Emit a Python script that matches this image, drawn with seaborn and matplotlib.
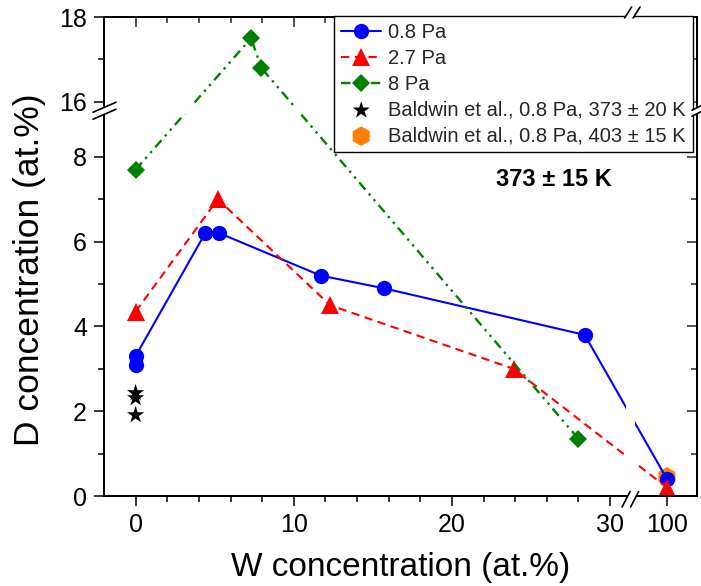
import numpy as np
import pandas as pd
import matplotlib
matplotlib.use("Agg")
import matplotlib.pyplot as plt
import seaborn as sns
from matplotlib.patches import Polygon
from matplotlib.lines import Line2D

# ---------------- data ----------------
w_08 = [0, 0, 4.4, 5.3, 11.7, 15.7, 28.4, 100]
d_08 = [3.1, 3.3, 6.2, 6.2, 5.2, 4.9, 3.8, 0.4]
w_27 = [0, 5.2, 12.3, 23.9, 100]
d_27 = [4.35, 7.0, 4.5, 3.0, 0.2]
w_8 = [0, 7.3, 7.95, 28.0]
d_8 = [7.7, 17.5, 16.8, 1.35]
w_b373 = [0, 0, 0]
d_b373 = [2.43, 2.31, 1.91]
w_b403 = [100]
d_b403 = [0.45]

series_labels = ["0.8 Pa", "2.7 Pa", "8 Pa",
                 "Baldwin et al., 0.8 Pa, 373 \u00b1 20 K",
                 "Baldwin et al., 0.8 Pa, 403 \u00b1 15 K"]
annotation = "373 \u00b1 15 K"
x_label = "W concentration (at.%)"
y_label = "D concentration (at.%)"
x_ticks = [0, 10, 20, 30, 100]
x_minor = [2, 4, 6, 8, 12, 14, 16, 18, 22, 24, 26, 28]
y_ticks = [0, 2, 4, 6, 8, 16, 18]
y_minor = [1, 3, 5, 7, 17]

# ---------------- broken-axis scales ----------------
X1, X2, GX = 31.0, 98.0, 0.6
Y1, Y2, GY = 9.0, 15.9, 0.2


def fx(x):
    x = np.asarray(x, dtype=float)
    return np.where(x <= X1, x,
                    np.where(x >= X2, x - X2 + X1 + GX,
                             X1 + (x - X1) * GX / (X2 - X1)))


def ifx(t):
    t = np.asarray(t, dtype=float)
    return np.where(t <= X1, t,
                    np.where(t >= X1 + GX, t - X1 - GX + X2,
                             X1 + (t - X1) * (X2 - X1) / GX))


def fy(y):
    y = np.asarray(y, dtype=float)
    return np.where(y <= Y1, y,
                    np.where(y >= Y2, y - Y2 + Y1 + GY,
                             Y1 + (y - Y1) * GY / (Y2 - Y1)))


def ify(t):
    t = np.asarray(t, dtype=float)
    return np.where(t <= Y1, t,
                    np.where(t >= Y1 + GY, t - Y1 - GY + Y2,
                             Y1 + (t - Y1) * (Y2 - Y1) / GY))


sns.set_theme(style="white")
plt.rcParams["font.family"] = ["Liberation Sans", "DejaVu Sans"]
plt.rcParams["axes.unicode_minus"] = False

W, H = 701, 586
fig = plt.figure(figsize=(W / 100, H / 100), dpi=100)
fig.patch.set_facecolor("white")
AX_L, AX_R, AX_T, AX_B = 104, 697, 17, 496
ax = fig.add_axes([AX_L / W, (H - AX_B) / H, (AX_R - AX_L) / W, (AX_B - AX_T) / H])
ax.set_facecolor("white")

XMIN, XMAX = -2.0, 101.9
YMIN, YMAX = 0.0, 18.0
ax.set_xscale("function", functions=(fx, ifx))
ax.set_yscale("function", functions=(fy, ify))

BLUE, RED, GREEN, ORANGE = "#0000FF", "#FF0000", "#008000", "#FF8000"

sns.lineplot(x=w_08, y=d_08, ax=ax, sort=False, estimator=None, color=BLUE,
             marker="o", markersize=11, markeredgewidth=0, lw=1.5,
             label=series_labels[0], zorder=2)
sns.lineplot(x=w_27, y=d_27, ax=ax, sort=False, estimator=None, color=RED,
             marker="^", markersize=12.5, markeredgewidth=0, lw=1.5,
             linestyle=(0, (4, 2.6)), label=series_labels[1], zorder=2)
sns.lineplot(x=w_8, y=d_8, ax=ax, sort=False, estimator=None, color=GREEN,
             marker="D", markersize=9.5, markeredgewidth=0, lw=1.7,
             linestyle=(0, (4, 2.2, 1, 2.2, 1, 2.2)), label=series_labels[2], zorder=2)
sns.scatterplot(x=w_b373, y=d_b373, ax=ax, marker="*", s=170, color="black",
                edgecolor="none", linewidth=0, label=series_labels[3], zorder=2)
sns.scatterplot(x=w_b403, y=d_b403, ax=ax, marker="h", s=200, color=ORANGE,
                edgecolor="none", linewidth=0, label=series_labels[4], zorder=1.5)
if ax.get_legend() is not None:
    ax.get_legend().remove()

ax.set_xlim(XMIN, XMAX)
ax.set_ylim(YMIN, YMAX)

# blank the lines inside the break bands (as in Origin)
ax.axvspan(X1, X2, color="white", lw=0, zorder=2.6)
ax.axhspan(Y1, Y2, color="white", lw=0, zorder=2.6)

ax.set_xticks(x_ticks)
ax.set_xticks(x_minor, minor=True)
ax.set_yticks(y_ticks)
ax.set_yticks(y_minor, minor=True)
ax.set_xticklabels([str(v) for v in x_ticks])
ax.set_yticklabels([str(v) for v in y_ticks])
ax.tick_params(which="both", direction="out", width=1.1, color="black",
               labelsize=18, labelcolor="black")
ax.tick_params(which="major", length=7.2, pad=5)
ax.tick_params(which="minor", length=4.3)
ax.grid(False)
for s in ax.spines.values():
    s.set_color("black")
    s.set_linewidth(1.4)
    s.set_zorder(3)
ax.set_xlabel(x_label, fontsize=24, color="black", labelpad=10.5)
ax.set_ylabel(y_label, fontsize=25.5, color="black")
ax.yaxis.set_label_coords(-(AX_L - 46) / (AX_R - AX_L), (AX_B - 270) / (AX_B - AX_T))

ax.text(0.759, 0.66, annotation, transform=ax.transAxes, ha="center", va="center",
        fontsize=17, fontweight="bold", color="black")

# top axis (inward ticks)
ax_top = ax.twiny()
ax_top.set_xscale("function", functions=(fx, ifx))
ax_top.set_xlim(XMIN, XMAX)
ax_top.set_xticks(x_ticks)
ax_top.set_xticks(x_minor, minor=True)
ax_top.tick_params(which="both", direction="in", width=1.1, labeltop=False, top=True)
ax_top.tick_params(which="major", length=7.2)
ax_top.tick_params(which="minor", length=4.3)
ax_top.grid(False)

# right axis (inward ticks)
ax_r = ax.twinx()
ax_r.set_yscale("function", functions=(fy, ify))
ax_r.set_ylim(YMIN, YMAX)
ax_r.set_yticks(y_ticks)
ax_r.set_yticks(y_minor, minor=True)
ax_r.tick_params(which="both", direction="in", width=1.1, labelright=False, right=True)
ax_r.tick_params(which="major", length=7.2)
ax_r.tick_params(which="minor", length=4.3)
ax_r.grid(False)
for a in (ax_top, ax_r):
    for s in a.spines.values():
        s.set_color("black")
        s.set_linewidth(1.4)

# legend
handles, labels = ax.get_legend_handles_labels()
leg = ax_r.legend(handles, labels, loc="upper right",
                  bbox_to_anchor=((692.7 - AX_L) / (AX_R - AX_L), 1.0 + 1 / (AX_B - AX_T)),
                  fontsize=14.5, frameon=True, fancybox=False, edgecolor="black",
                  framealpha=1, borderpad=0.35, labelspacing=0.34, handlelength=2.0,
                  handletextpad=0.33, borderaxespad=0, numpoints=1, scatterpoints=1)
leg.get_frame().set_linewidth(1.0)
leg.set_zorder(20)

# break marks (decorations), in axes fractions from pixel offsets
aw, ah = AX_R - AX_L, AX_B - AX_T
tx0, tx1 = float(fx(XMIN)), float(fx(XMAX))
ty0, ty1 = float(fy(YMIN)), float(fy(YMAX))
bx = (X1 + GX / 2 - tx0) / (tx1 - tx0)
by = (Y1 + GY / 2 - ty0) / (ty1 - ty0)


def slash_pair(cx, cy, p1, p2, shift):
    """p1, p2: endpoints of first slash in pixel offsets (dx, dy-up); shift: (dx,dy) to 2nd."""
    pts_a = [(cx + p1[0] / aw, cy + p1[1] / ah), (cx + p2[0] / aw, cy + p2[1] / ah)]
    pts_b = [(x + shift[0] / aw, y + shift[1] / ah) for x, y in pts_a]
    poly = Polygon([pts_a[0], pts_b[0], pts_b[1], pts_a[1]], closed=True,
                   facecolor="white", edgecolor="none", transform=ax_r.transAxes,
                   clip_on=False, zorder=30)
    ax_r.add_patch(poly)
    for pts in (pts_a, pts_b):
        ax_r.add_line(Line2D([p[0] for p in pts], [p[1] for p in pts], color="black",
                             lw=1.2, transform=ax_r.transAxes, clip_on=False, zorder=31))


# x break, bottom and top
slash_pair(bx, 0.0, (-8.5, -11), (-0.5, 4.5), (8.5, 0))
slash_pair(bx, 1.0, (-6, -1), (1, 10), (8.5, 0))
# y break, left and right
slash_pair(0.0, by, (-11, -9), (12, 1), (0, 7))
slash_pair(1.0, by, (-5, -6), (5, -1), (0, 6))

fig.savefig("out.png", dpi=100, facecolor="white")
